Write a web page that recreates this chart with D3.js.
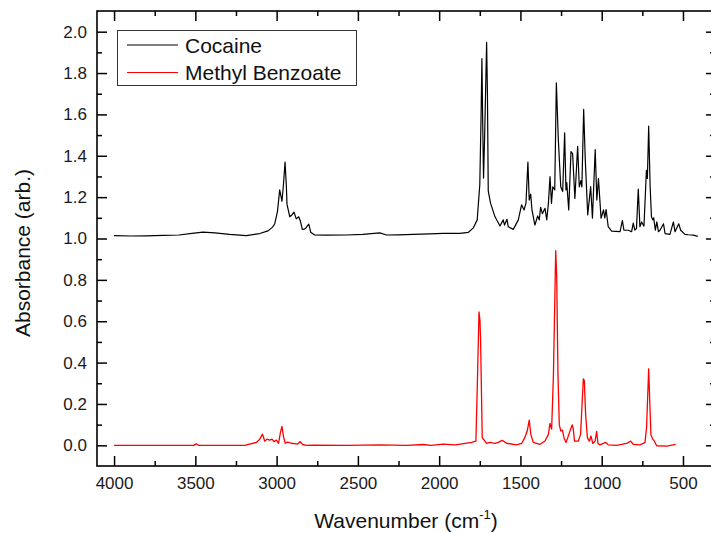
<!DOCTYPE html>
<html>
<head>
<meta charset="utf-8">
<script src="https://cdn.jsdelivr.net/npm/d3@7/dist/d3.min.js"></script>
<style>
  html, body { margin: 0; padding: 0; background: #fff; }
  svg { display: block; font-family: "Liberation Sans", Arial, sans-serif; }
</style>
</head>
<body>
<svg id="chart" width="711" height="533"></svg>
<script>
// FTIR absorbance spectra (offset by +1.0 for cocaine)
const cocaineWn = [4000,3900,3800,3700,3600,3520,3453,3380,3289,3186,3104,3053,3025,3012,2995,2981,2972,2967,2958,2948,2940,2936,2919,2905,2893,2879,2864,2854,2842,2830,2821,2802,2790,2766,2700,2570,2470,2365,2324,2250,2160,2060,1975,1872,1820,1791,1766,1750,1742,1737,1732,1727,1720,1712,1708,1703,1698,1684,1657,1626,1606,1598,1583,1575,1544,1513,1493,1478,1466,1454,1446,1437,1429,1411,1394,1384,1376,1365,1349,1338,1328,1318,1309,1301,1289,1279,1267,1252,1240,1228,1220,1215,1203,1189,1179,1165,1148,1138,1128,1122,1111,1101,1086,1068,1057,1040,1030,1020,1004,989,981,973,960,939,887,873,863,836,816,806,796,786,775,765,754,740,725,719,711,702,694,686,680,670,661,651,641,620,610,580,559,549,526,514,488,467,436,409];
const cocaineAbs = [1.014,1.012,1.013,1.015,1.017,1.025,1.031,1.027,1.020,1.014,1.024,1.037,1.055,1.07,1.13,1.235,1.20,1.18,1.26,1.370,1.25,1.165,1.105,1.115,1.127,1.095,1.105,1.085,1.044,1.045,1.05,1.07,1.03,1.017,1.016,1.017,1.02,1.027,1.017,1.018,1.020,1.022,1.025,1.025,1.03,1.05,1.09,1.26,1.6,1.870,1.55,1.292,1.5,1.8,1.948,1.7,1.23,1.171,1.106,1.06,1.09,1.065,1.093,1.057,1.044,1.09,1.163,1.138,1.17,1.370,1.186,1.215,1.138,1.065,1.109,1.09,1.151,1.12,1.146,1.09,1.17,1.299,1.17,1.25,1.235,1.753,1.48,1.25,1.227,1.511,1.235,1.27,1.138,1.42,1.41,1.194,1.446,1.25,1.28,1.25,1.624,1.38,1.114,1.251,1.098,1.43,1.186,1.29,1.098,1.138,1.10,1.14,1.057,1.036,1.033,1.087,1.04,1.04,1.033,1.074,1.04,1.049,1.239,1.057,1.08,1.06,1.329,1.29,1.543,1.25,1.106,1.09,1.10,1.04,1.08,1.033,1.04,1.071,1.024,1.02,1.08,1.033,1.071,1.04,1.02,1.018,1.016,1.01];

const benzoateWn = [4000,3800,3600,3510,3494,3480,3300,3196,3124,3104,3087,3073,3059,3043,3028,3016,3002,2988,2977,2967,2957,2947,2931,2910,2890,2870,2854,2841,2817,2776,2570,2365,2200,2098,2050,1975,1900,1800,1774,1764,1755,1749,1745,1735,1708,1688,1657,1637,1612,1585,1524,1493,1473,1458,1446,1436,1421,1380,1349,1328,1318,1308,1297,1283,1277,1269,1261,1252,1242,1232,1220,1209,1195,1181,1175,1167,1144,1130,1122,1113,1107,1099,1088,1076,1066,1055,1041,1031,1023,1011,975,960,908,847,822,806,765,734,724,716,711,703,697,686,676,662,600,545];
const benzoateAbs = [0.0,0.0,0.0,0.0,0.007,0.0,0.0,0.0,0.014,0.03,0.054,0.02,0.03,0.025,0.03,0.018,0.025,0.01,0.06,0.091,0.04,0.01,0.015,0.01,0.008,0.006,0.018,0.004,0.0,0.001,0.0,0.002,0.0,0.004,0.0,0.006,0.002,0.014,0.02,0.33,0.645,0.604,0.50,0.037,0.009,0.014,0.009,0.014,0.024,0.01,0.002,0.009,0.037,0.07,0.122,0.053,0.014,0.005,0.021,0.053,0.106,0.078,0.34,0.941,0.82,0.34,0.10,0.07,0.073,0.037,0.013,0.037,0.07,0.099,0.078,0.02,0.02,0.053,0.18,0.321,0.313,0.15,0.037,0.02,0.045,0.009,0.02,0.067,0.009,0.002,0.014,0.002,0.0,0.009,0.02,0.005,0.002,0.013,0.086,0.26,0.370,0.18,0.05,0.03,0.02,-0.002,-0.004,0.005];

const seriesNames = ["Cocaine", "Methyl Benzoate"];
const seriesColors = ["#000000", "#ff0000"];

const xMajorTicks = [4000,3500,3000,2500,2000,1500,1000,500];
const xMinorTicks = [3750,3250,2750,2250,1750,1250,750];
const yMajorTicks = [0.0,0.2,0.4,0.6,0.8,1.0,1.2,1.4,1.6,1.8,2.0];
const yMinorTicks = [0.1,0.3,0.5,0.7,0.9,1.1,1.3,1.5,1.7,1.9];

const plotLeft = 97, plotRight = 715, plotTop = 11, plotBottom = 466;

const svg = d3.select("#chart");
const x = d3.scaleLinear().domain([4105, 303]).range([plotLeft, plotRight]);
const y = d3.scaleLinear().domain([-0.1, 2.1]).range([plotBottom, plotTop]);

const fmtY = d3.format(".1f");

// axes with inward ticks
function styleAxis(g) {
  g.select(".domain").remove();
  g.selectAll(".tick line").attr("stroke", "#000").attr("stroke-width", 1.5);
  g.selectAll(".tick text").attr("fill", "#1a1a1a").style("font-size", "17px")
    .style("font-family", "'Liberation Sans', Arial, sans-serif");
}

svg.append("g").attr("transform", `translate(0,${plotBottom})`)
  .call(d3.axisBottom(x).tickValues(xMajorTicks).tickSize(-10).tickPadding(11).tickFormat(d3.format("d")))
  .call(styleAxis);
svg.append("g").attr("transform", `translate(0,${plotBottom})`)
  .call(d3.axisBottom(x).tickValues(xMinorTicks).tickSize(-5).tickFormat(""))
  .call(styleAxis);
svg.append("g").attr("transform", `translate(0,${plotTop})`)
  .call(d3.axisTop(x).tickValues(xMajorTicks).tickSize(-10).tickFormat(""))
  .call(styleAxis);
svg.append("g").attr("transform", `translate(0,${plotTop})`)
  .call(d3.axisTop(x).tickValues(xMinorTicks).tickSize(-5).tickFormat(""))
  .call(styleAxis);

svg.append("g").attr("transform", `translate(${plotLeft},0)`)
  .call(d3.axisLeft(y).tickValues(yMajorTicks).tickSize(-10).tickPadding(10).tickFormat(fmtY))
  .call(styleAxis);
svg.append("g").attr("transform", `translate(${plotLeft},0)`)
  .call(d3.axisLeft(y).tickValues(yMinorTicks).tickSize(-5).tickFormat(""))
  .call(styleAxis);
svg.append("g").attr("transform", `translate(${plotRight},0)`)
  .call(d3.axisRight(y).tickValues(yMajorTicks).tickSize(-9).tickFormat(""))
  .call(styleAxis);
svg.append("g").attr("transform", `translate(${plotRight},0)`)
  .call(d3.axisRight(y).tickValues(yMinorTicks).tickSize(-5).tickFormat(""))
  .call(styleAxis);

// plot frame
svg.append("rect")
  .attr("x", plotLeft).attr("y", plotTop)
  .attr("width", plotRight - plotLeft).attr("height", plotBottom - plotTop)
  .attr("fill", "none").attr("stroke", "#000").attr("stroke-width", 1.6);

// spectra
const line = d3.line().x(d => x(d[0])).y(d => y(d[1]));
const cocaine = cocaineWn.map((w, i) => [w, cocaineAbs[i]]);
const benzoate = benzoateWn.map((w, i) => [w, benzoateAbs[i]]);

svg.append("path").datum(cocaine)
  .attr("d", line).attr("fill", "none")
  .attr("stroke", seriesColors[0]).attr("stroke-width", 1.2).attr("stroke-linejoin", "round");
svg.append("path").datum(benzoate)
  .attr("d", line).attr("fill", "none")
  .attr("stroke", seriesColors[1]).attr("stroke-width", 1.3).attr("stroke-linejoin", "round");

// legend
const legend = svg.append("g");
legend.append("rect")
  .attr("x", 117.5).attr("y", 30.5).attr("width", 239).attr("height", 55)
  .attr("fill", "#fff").attr("stroke", "#333").attr("stroke-width", 1);
seriesNames.forEach((name, i) => {
  const ly = 45 + i * 27.5;
  legend.append("line")
    .attr("x1", 127).attr("x2", 178).attr("y1", ly).attr("y2", ly)
    .attr("stroke", seriesColors[i]).attr("stroke-width", 1.2);
  legend.append("text")
    .attr("x", 185).attr("y", ly + 7.5)
    .attr("fill", "#111").style("font-size", "21px")
    .text(name);
});

// axis titles
svg.append("text")
  .attr("transform", `translate(30,253) rotate(-90)`)
  .attr("text-anchor", "middle")
  .attr("fill", "#111").style("font-size", "21px")
  .text("Absorbance (arb.)");

const xt = svg.append("text")
  .attr("x", 406).attr("y", 528)
  .attr("text-anchor", "middle")
  .attr("fill", "#111").style("font-size", "21px");
xt.append("tspan").text("Wavenumber (cm");
xt.append("tspan").attr("dy", -9).style("font-size", "13px").text("-1");
xt.append("tspan").attr("dy", 9).text(")");
</script>
</body>
</html>
